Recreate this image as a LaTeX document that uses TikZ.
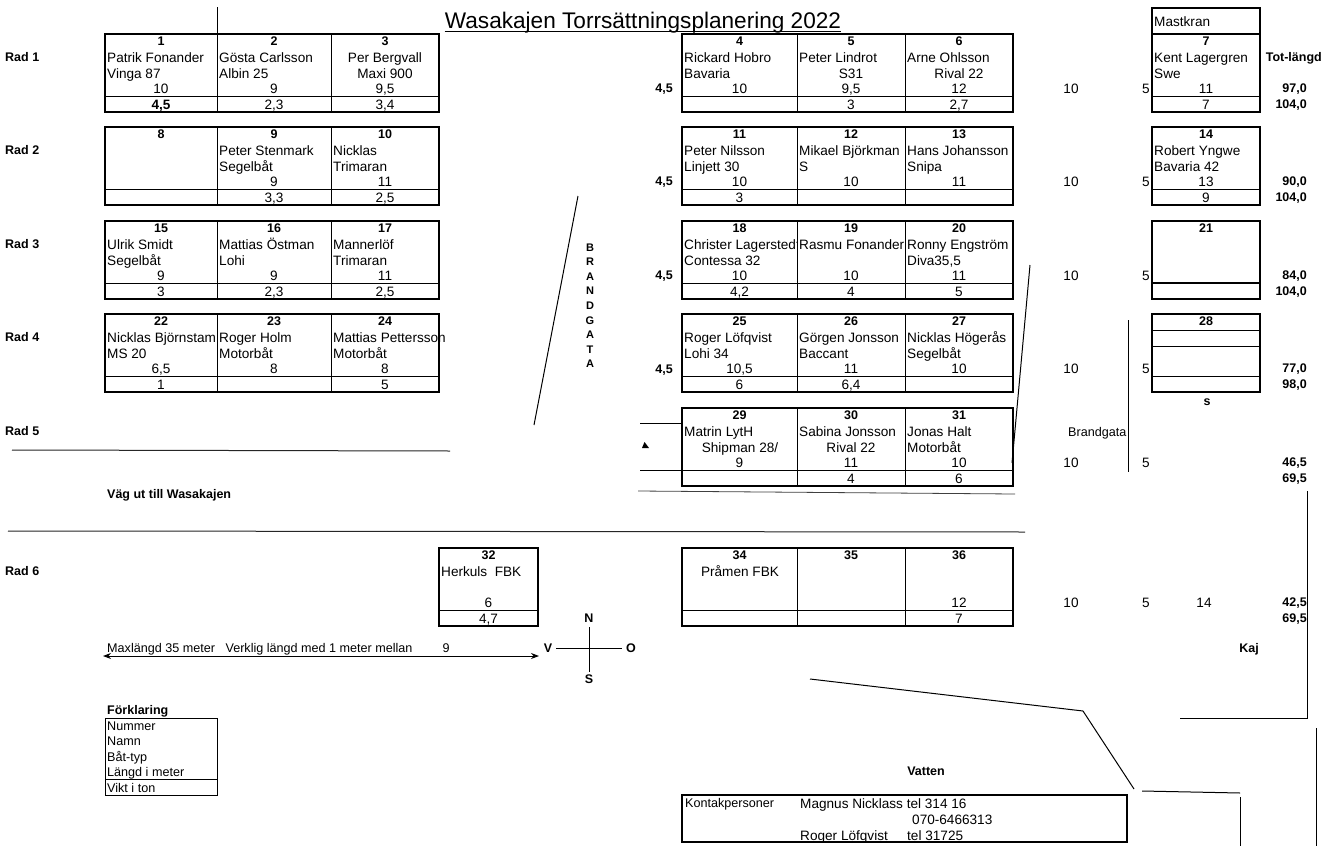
\documentclass[tikz,border=0pt]{standalone}
\usepackage{fontspec}
\setmainfont{Liberation Sans}
\usetikzlibrary{arrows.meta}
\newcommand\bblk[4]{%
  \draw[thinline] (#1,#3+62) -- (#2,#3+62);
  \foreach \xx in {#4} {\draw[thinline] (\xx,#3) -- (\xx,#3+78);}
  \draw[outline] (#1,#3) rectangle (#2,#3+78);
}
\newcommand\sblk[3]{%
  \draw[thinline] (#1,#3+62) -- (#2,#3+62);
  \draw[outline] (#1,#3) rectangle (#2,#3+78);
}
\newcommand\bcell[7]{%
  \node[bld] (n#1) at ({(#2+#3)/2},#4+7) {#5};
  \node[txt] (l#1) at ({(#2+#3)/2},#4+54) {#6};
  \node[txt] (w#1) at ({(#2+#3)/2},#4+70) {#7};
}
\newcommand\nmL[4]{\node[txt,anchor=west] (a#1) at (#2+2,#3+23) {#4};}
\newcommand\tpL[4]{\node[txt,anchor=west] (b#1) at (#2+2,#3+39) {#4};}
\newcommand\nmC[4]{\node[txt] (a#1) at (#2,#3+23) {#4};}
\newcommand\tpC[4]{\node[txt] (b#1) at (#2,#3+39) {#4};}
\newcommand\rowR[6]{% id, T, right "10", "5", total1, total2
  \node[txt] (r10#1) at (1071,#2+54) {#3};
  \node[txt,anchor=east] (r5#1) at (1150,#2+54) {#4};
  \node[bld,anchor=east] (ta#1) at (1307,#2+54) {#5};
  \node[bld,anchor=east] (tb#1) at (1307,#2+70) {#6};
}
\begin{document}
\begin{tikzpicture}[x=1pt,y=-1pt,
  txt/.style={inner sep=0pt, text height=10pt, text depth=0pt, font=\fontsize{13.6}{16}\selectfont},
  bld/.style={inner sep=0pt, text height=9pt, text depth=0pt, font=\fontsize{12.5}{15}\selectfont\bfseries},
  sml/.style={inner sep=0pt, text height=9pt, text depth=0pt, font=\fontsize{12.6}{15}\selectfont},
  thinline/.style={line width=0.8pt},
  outline/.style={line width=1.4pt},
  plain/.style={line width=1pt},
]
\fill[white] (0,0) rectangle (1326,846);
\useasboundingbox (0,0) rectangle (1326,846);

% title
\node[inner sep=0pt, text height=16.2pt, text depth=0pt, font=\fontsize{22.6}{26}\selectfont] (title) at (643,20) {Wasakajen Torrsättningsplanering 2022};
\draw[plain] ([yshift=-3pt]title.base west) -- ([yshift=-3pt]title.base east);
\draw[plain] (217,7) -- (217,34);

% Rad labels
\foreach \t/\r in {34/1,127/2,221/3,314/4,408/5,548/6}
  \node[bld,anchor=west] (rad\r) at (5,\t+23) {Rad \r};
\node[bld,anchor=east] (tot) at (1322,57) {Tot-längd};

% ---------- Row 1 ----------
\bblk{105}{439}{34}{217,331}
\bcell{1}{105}{217}{34}{1}{10}{\bfseries 4,5}
\nmL{1}{105}{34}{Patrik Fonander}\tpL{1}{105}{34}{Vinga 87}
\bcell{2}{217}{331}{34}{2}{9}{2,3}
\nmL{2}{217}{34}{Gösta Carlsson}\tpL{2}{217}{34}{Albin 25}
\bcell{3}{331}{439}{34}{3}{9,5}{3,4}
\nmC{3}{385}{34}{Per Bergvall}\tpC{3}{385}{34}{Maxi 900}
\bblk{682}{1013}{34}{797,905}
\bcell{4}{682}{797}{34}{4}{10}{}
\nmL{4}{682}{34}{Rickard Hobro}\tpL{4}{682}{34}{Bavaria}
\bcell{5}{797}{905}{34}{5}{9,5}{3}
\nmL{5}{797}{34}{Peter Lindrot}\tpC{5}{851}{34}{S31}
\bcell{6}{905}{1013}{34}{6}{12}{2,7}
\nmL{6}{905}{34}{Arne Ohlsson}\tpC{6}{959}{34}{Rival 22}
\draw[outline] (1152,8) rectangle (1260,34);
\node[txt,anchor=west] (mast) at (1154,21) {Mastkran};
\sblk{1152}{1260}{34}
\bcell{7}{1152}{1260}{34}{7}{11}{7}
\nmL{7}{1152}{34}{Kent Lagergren}\tpL{7}{1152}{34}{Swe}
\node[bld,anchor=east] (h1) at (673,88) {4,5};
\rowR{1}{34}{10}{5}{97,0}{104,0}

% ---------- Row 2 ----------
\bblk{105}{439}{127}{217,331}
\bcell{8}{105}{217}{127}{8}{}{}
\bcell{9}{217}{331}{127}{9}{9}{3,3}
\nmL{9}{217}{127}{Peter Stenmark}\tpL{9}{217}{127}{Segelbåt}
\bcell{10}{331}{439}{127}{10}{11}{2,5}
\nmL{10}{331}{127}{Nicklas}\tpL{10}{331}{127}{Trimaran}
\bblk{682}{1013}{127}{797,905}
\bcell{11}{682}{797}{127}{11}{10}{3}
\nmL{11}{682}{127}{Peter Nilsson}\tpL{11}{682}{127}{Linjett 30}
\bcell{12}{797}{905}{127}{12}{10}{}
\nmL{12}{797}{127}{Mikael Björkman}\tpL{12}{797}{127}{S}
\bcell{13}{905}{1013}{127}{13}{11}{}
\nmL{13}{905}{127}{Hans Johansson}\tpL{13}{905}{127}{Snipa}
\sblk{1152}{1260}{127}
\bcell{14}{1152}{1260}{127}{14}{13}{9}
\nmL{14}{1152}{127}{Robert Yngwe}\tpL{14}{1152}{127}{Bavaria 42}
\node[bld,anchor=east] (h2) at (673,181) {4,5};
\rowR{2}{127}{10}{5}{90,0}{104,0}

% ---------- Row 3 ----------
\bblk{105}{439}{221}{217,331}
\bcell{15}{105}{217}{221}{15}{9}{3}
\nmL{15}{105}{221}{Ulrik Smidt}\tpL{15}{105}{221}{Segelbåt}
\bcell{16}{217}{331}{221}{16}{9}{2,3}
\nmL{16}{217}{221}{Mattias Östman}\tpL{16}{217}{221}{Lohi}
\bcell{17}{331}{439}{221}{17}{11}{2,5}
\nmL{17}{331}{221}{Mannerlöf}\tpL{17}{331}{221}{Trimaran}
\bblk{682}{1013}{221}{797,905}
\bcell{18}{682}{797}{221}{18}{10}{4,2}
\begin{scope}\clip (682,221) rectangle (797,299);
\nmL{18}{682}{221}{Christer Lagerstedt}
\end{scope}
\tpL{18}{682}{221}{Contessa 32}
\bcell{19}{797}{905}{221}{19}{10}{4}
\begin{scope}\clip (797,221) rectangle (905,299);
\nmL{19}{797}{221}{Rasmu Fonander}
\end{scope}
\bcell{20}{905}{1013}{221}{20}{11}{5}
\nmL{20}{905}{221}{Ronny Engström}\tpL{20}{905}{221}{Diva35,5}
\draw[outline] (1152,283) -- (1260,283);
\draw[outline] (1152,221) rectangle (1260,299);
\bcell{21}{1152}{1260}{221}{21}{}{}
\node[bld,anchor=east] (h3) at (673,275) {4,5};
\rowR{3}{221}{10}{5}{84,0}{104,0}

% ---------- Row 4 ----------
\bblk{105}{439}{314}{217,331}
\bcell{22}{105}{217}{314}{22}{6,5}{1}
\nmL{22}{105}{314}{Nicklas Björnstam}\tpL{22}{105}{314}{MS 20}
\bcell{23}{217}{331}{314}{23}{8}{}
\nmL{23}{217}{314}{Roger Holm}\tpL{23}{217}{314}{Motorbåt}
\bcell{24}{331}{439}{314}{24}{8}{5}
\nmL{24}{331}{314}{Mattias Pettersson}\tpL{24}{331}{314}{Motorbåt}
\bblk{682}{1013}{314}{797,905}
\bcell{25}{682}{797}{314}{25}{10,5}{6}
\nmL{25}{682}{314}{Roger Löfqvist}\tpL{25}{682}{314}{Lohi 34}
\bcell{26}{797}{905}{314}{26}{11}{6,4}
\nmL{26}{797}{314}{Görgen Jonsson}\tpL{26}{797}{314}{Baccant}
\bcell{27}{905}{1013}{314}{27}{10}{}
\nmL{27}{905}{314}{Nicklas Högerås}\tpL{27}{905}{314}{Segelbåt}
\sblk{1152}{1260}{314}
\draw[thinline] (1152,330) -- (1260,330);
\draw[thinline] (1152,346) -- (1260,346);
\bcell{28}{1152}{1260}{314}{28}{}{}
\node[bld] (s28) at (1207,401) {s};
\node[bld,anchor=east] (h4) at (673,369) {4,5};
\rowR{4}{314}{10}{5}{77,0}{98,0}

% ---------- Row 5 ----------
\bblk{682}{1013}{408}{797,905}
\bcell{29}{682}{797}{408}{29}{9}{}
\nmL{29}{682}{408}{Matrin LytH}\tpC{29}{740}{408}{Shipman 28/}
\bcell{30}{797}{905}{408}{30}{11}{4}
\nmL{30}{797}{408}{Sabina Jonsson}\tpC{30}{851}{408}{Rival 22}
\bcell{31}{905}{1013}{408}{31}{10}{6}
\nmL{31}{905}{408}{Jonas Halt}\tpL{31}{905}{408}{Motorbåt}
\draw[thinline] (640,423) -- (682,423);
\draw[thinline] (640,470) -- (682,470);
\fill (642,448) -- (649,448) -- (644.5,442) -- cycle;
\draw[thinline, black!75] (638,491) -- (1015,494);
\node[sml,anchor=west] (brg) at (1068,432) {Brandgata};
\rowR{5}{408}{10}{5}{46,5}{69,5}
\draw[plain] (1128,320) -- (1128,472);

% Brandgata vertical
\foreach \c [count=\i from 0] in {B,R,A,N,D,G,A,T,A}
  \node[inner sep=0pt, text height=8pt, text depth=0pt, font=\fontsize{11}{13}\selectfont\bfseries] (bg\i) at (590,247+14.6*\i) {\c};
\draw[plain] (578,196) -- (534,425);
\draw[plain] (1030,265) -- (1012,463);

% roads
\draw[plain, black!85] (12,450) -- (450,451);
\draw[plain, black!85] (8,531) -- (1025,532);
\node[bld,anchor=west] (vag) at (107,494) {Väg ut till Wasakajen};

% ---------- Row 6 ----------
\sblk{439}{538}{548}
\bcell{32}{439}{538}{548}{32}{6}{4,7}
\nmL{32}{439}{548}{Herkuls\ \ FBK}
\bblk{682}{1013}{548}{797,905}
\bcell{34}{682}{797}{548}{34}{}{}
\nmC{34}{740}{548}{Pråmen FBK}
\bcell{35}{797}{905}{548}{35}{}{}
\bcell{36}{905}{1013}{548}{36}{12}{7}
\rowR{6}{548}{10}{5}{42,5}{69,5}
\node[txt] (r14) at (1204,602) {14};

% arrow and compass
\coordinate (arL) at (103,656);
\coordinate (arR) at (539,656);
\draw[plain, {Stealth[length=8pt,width=6pt]}-{Stealth[length=8pt,width=6pt]}] (arL) -- (arR);
\node[sml,anchor=west] (maxl) at (107,648) {Maxlängd 35 meter\ \ \ Verklig längd med 1 meter mellan};
\node[sml] (nine) at (446,648) {9};
\node[bld] (cN) at (589,618) {N};
\node[bld] (cS) at (589,679) {S};
\node[bld] (cV) at (548,648) {V};
\node[bld] (cO) at (631,648) {O};
\coordinate (cNe) at (589,627);
\coordinate (cSe) at (589,672);
\coordinate (cVe) at (556,648);
\coordinate (cOe) at (622,648);
\draw[thinline] (cNe) -- (cSe);
\draw[thinline] (cVe) -- (cOe);
\node[bld] (kaj) at (1249,648) {Kaj};

% shore lines
\coordinate (q1) at (1307,491);
\coordinate (q2) at (1307,718);
\coordinate (q3) at (1180,718);
\draw[plain] (q1) -- (q2) -- (q3);
\draw[plain] (1316,728) -- (1316,846);
\coordinate (w1) at (810,679);
\coordinate (w2) at (1083,711);
\coordinate (w3) at (1134,789);
\draw[plain] (w1) -- (w2) -- (w3);
\draw[plain] (1142,791) -- (1240,793);
\draw[plain] (1240,797) -- (1240,846);
\node[bld] (vatten) at (926,771) {Vatten};

% legend
\node[bld,anchor=west] (forkl) at (107,710) {Förklaring};
\draw[plain] (105,718) rectangle (217,795);
\draw[plain] (105,779) -- (217,779);
\node[sml,anchor=west] (lg1) at (107,726) {Nummer};
\node[sml,anchor=west] (lg2) at (107,741) {Namn};
\node[sml,anchor=west] (lg3) at (107,757) {Båt-typ};
\node[sml,anchor=west] (lg4) at (107,772) {Längd i meter};
\node[sml,anchor=west] (lg5) at (107,788) {Vikt i ton};

% contacts
\draw[outline] (682,795) rectangle (1127,842);
\node[sml,anchor=west] (kp) at (685,803) {Kontakpersoner};
\node[txt,anchor=west] (kp1) at (800,803) {Magnus Nicklass tel 314 16};
\node[txt,anchor=west] (kp2) at (912,819) {070-6466313};
\node[txt,anchor=west] (kp3) at (800,835) {Roger Löfqvist};
\node[txt,anchor=west] (kp4) at (907,835) {tel 31725};
\end{tikzpicture}
\end{document}
